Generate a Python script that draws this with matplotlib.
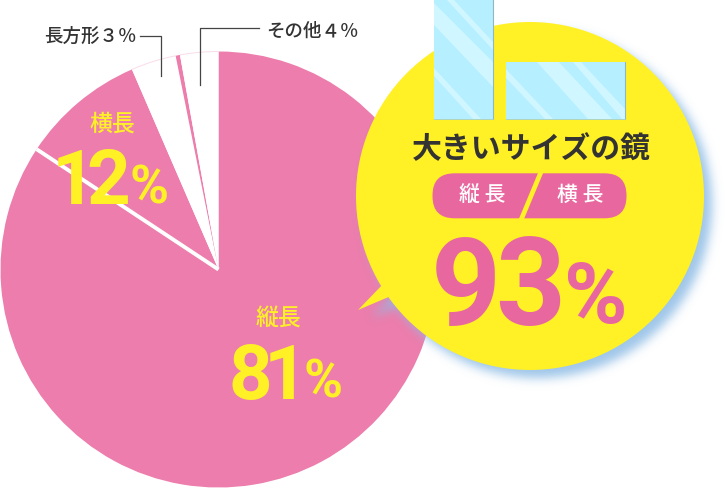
import math
import numpy as np
import matplotlib
matplotlib.use('Agg')
import matplotlib.pyplot as plt
from matplotlib.patches import Arc, Circle, Polygon, Rectangle, FancyBboxPatch

W = 727
H = 488

# shares as drawn in the picture (the drawn angles do not follow the printed %)
slice_names = ['縦長', '横長', '長方形', '仕切り', 'その他']
slice_sizes = [84.3, 9.2, 3.35, 0.32, 2.83]
slice_colors = ['#ec7dac', '#ec7dac', 'white', '#ec7dac', 'white']

printed_tate = '81'
printed_yoko = '12'
printed_total = '93'
label_rect = '長方形３％'
label_other = 'その他４％'

DEEP = '#e9679f'
YELLOW = '#fff126'
DARK = '#333333'
GLASS = '#b6efff'
STRIPE = '#d0f6ff'
JP = 'Noto Sans CJK JP'
NUM = 'Roboto'


def Y(y):
    return H - y


fig = plt.figure(figsize=(W / 100, H / 100), dpi=100)
ax = fig.add_axes([0, 0, 1, 1])

cx, cy, r = 218.5, Y(269.5), 218
wedges, _ = ax.pie(slice_sizes, colors=slice_colors, startangle=90, counterclock=False,
                   center=(cx, cy), radius=r, frame=True)

# white line between tate and yoko
ang = wedges[1].theta2
ax.plot([cx, cx + r * math.cos(math.radians(ang))], [cy, cy + r * math.sin(math.radians(ang))],
        color='white', lw=2.8, solid_capstyle='butt', zorder=3)

# faint outline on the cut out slices
for i in (2, 4):
    ax.add_patch(Arc((cx, cy), 2 * r, 2 * r, theta1=wedges[i].theta1, theta2=wedges[i].theta2,
                     color='#f9dce9', lw=0.7, zorder=3))

# bubble
bx, by, br = 530, 196, 174
tail = [(358, 310), (385, 282), (398, 293)]

# soft shadow: blur the bubble mask and lay it over the pie
xx, yy = np.meshgrid(np.arange(W) + 0.5, np.arange(H) + 0.5)
mask = ((xx - bx - 8) ** 2 + (yy - by - 8) ** 2 < br ** 2).astype(float)
tx = [p[0] + 14 for p in tail]
ty = [p[1] + 7 for p in tail]
inside = np.ones_like(mask, dtype=bool)
for i in range(3):
    j = (i + 1) % 3
    inside &= (tx[j] - tx[i]) * (yy - ty[i]) - (ty[j] - ty[i]) * (xx - tx[i]) > 0
mask = np.maximum(mask, inside.astype(float))
fy = np.fft.fftfreq(H)[:, None]
fx = np.fft.rfftfreq(W)[None, :]
sigma = 5
soft = np.fft.irfft2(np.fft.rfft2(mask) * np.exp(-2 * (math.pi * sigma) ** 2 * (fx ** 2 + fy ** 2)), s=(H, W))
rgba = np.zeros((H, W, 4))
rgba[..., 0] = 0.56
rgba[..., 1] = 0.74
rgba[..., 2] = 0.90
rgba[..., 3] = np.clip(soft, 0, 1) * 0.85
ax.imshow(rgba, extent=(0, W, 0, H), origin='upper', zorder=4, interpolation='nearest')

ax.add_patch(Circle((bx, Y(by)), br, color=YELLOW, lw=0, zorder=5))
ax.add_patch(Polygon([(x, Y(y)) for x, y in tail], color=YELLOW, lw=0, zorder=5))


def mirror(x0, y0, x1, y1, stripes):
    rect = Rectangle((x0, Y(y1)), x1 - x0, y1 - y0, facecolor=GLASS, lw=0, zorder=6)
    ax.add_patch(rect)
    for s in stripes:
        p = Polygon([(x, Y(y)) for x, y in s], color=STRIPE, lw=0, zorder=7)
        ax.add_patch(p)
        p.set_clip_path(rect)
    ax.plot([x1, x1], [Y(y0), Y(y1)], color='#8fb8c4', lw=0.8, zorder=8)
    ax.plot([x0, x1], [Y(y1), Y(y1)], color='#a0d0dc', lw=0.6, zorder=8)


mirror(434.3, 0, 492.6, 119, [
    [(447, 0), (454, 0), (493, 42), (493, 50)],
    [(434, 3), (434, 25), (493, 87), (493, 62)],
    [(434, 68), (434, 76), (473, 119), (481, 119)],
])
mirror(505.7, 61.7, 625.2, 119, [
    [(536, 61), (558, 61), (612, 119), (588, 119)],
    [(572, 61), (580, 61), (626, 110), (626, 119), (622, 119)],
    [(505, 68), (505, 77), (545, 119), (553, 119)],
])

# pill with yellow slash
ax.add_patch(FancyBboxPatch((432.5 + 22, Y(218.3) + 22), 194 - 44, 45 - 44,
                            boxstyle='round,pad=22', facecolor=DEEP, lw=0, zorder=6))
ax.plot([541, 521], [Y(172), Y(220)], color=YELLOW, lw=3.4, solid_capstyle='butt', zorder=7)


def txt(x, y, s, size, color, weight='bold'):
    ax.text(x, Y(y), s, fontsize=size, color=color, family=JP, weight=weight,
            ha='center', va='center', zorder=9)


def digits(s, xs, base, size, color):
    for ch, x in zip(s, xs):
        ax.text(x, Y(base), ch, fontsize=size, color=color, family=NUM, weight='bold',
                ha='center', va='baseline', zorder=9)


def pct(x, base, size, color):
    ax.text(x, Y(base), '%', fontsize=size, color=color, family=NUM, weight='bold',
            ha='center', va='baseline', zorder=9)


txt(531, 149, '大きいサイズの鏡', 21.5, DARK)
txt(482, 195, '縦 長', 15, 'white', weight='medium')
txt(580, 195, '横 長', 15, 'white', weight='medium')
digits(printed_total, [466, 530], 325, 88, DEEP)
pct(595.5, 323, 62, DEEP)

txt(278, 318, slice_names[0], 16.5, YELLOW, weight='medium')
digits(printed_tate, [250, 286], 399, 55, YELLOW)
pct(323, 398, 38, YELLOW)

txt(112, 124, slice_names[1], 16.5, YELLOW, weight='medium')
digits(printed_yoko, [74, 108], 204, 55, YELLOW)
pct(148.5, 204, 38, YELLOW)

txt(90, 36, label_rect, 13.3, DARK, weight='medium')
txt(312, 31, label_other, 13.3, DARK, weight='medium')

# leader lines
ax.plot([140, 160.5, 160.5], [Y(36), Y(36), Y(76)], color='#444444', lw=0.9, zorder=9)
ax.plot([259, 199.5, 199.5], [Y(28), Y(28), Y(85)], color='#444444', lw=0.9, zorder=9)

ax.set_xlim(0, W)
ax.set_ylim(0, H)
ax.set_aspect('equal')
ax.axis('off')

fig.savefig('out.png', dpi=100)
